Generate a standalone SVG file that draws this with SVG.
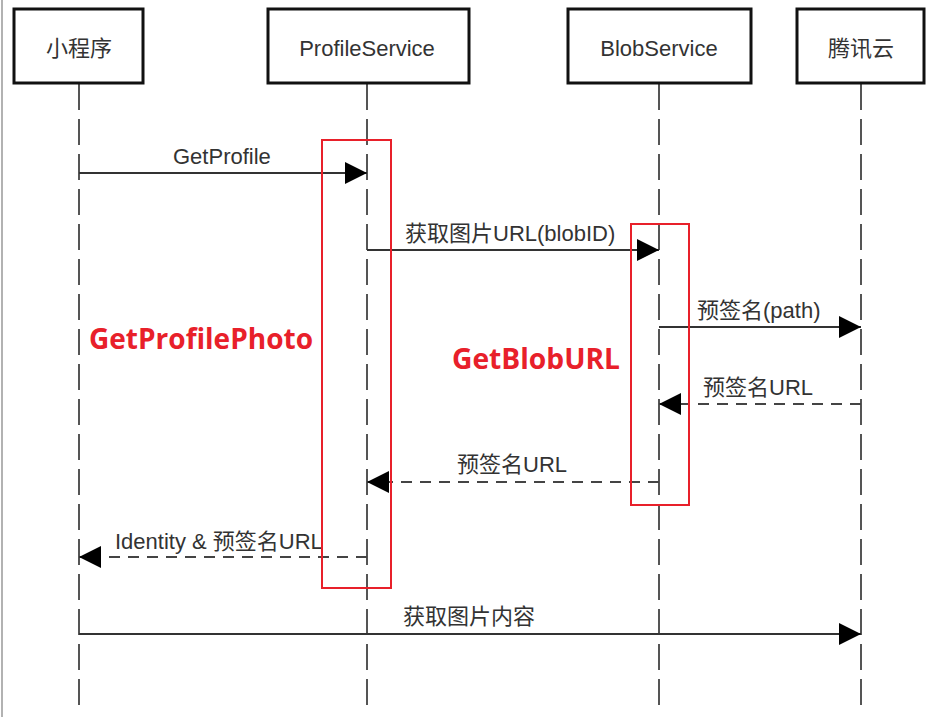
<svg xmlns="http://www.w3.org/2000/svg" width="930" height="717" viewBox="0 0 930 717">
<style>
.box{fill:#fff;stroke:#111;stroke-width:3}
.nt{font-family:"Liberation Sans","Noto Sans CJK SC",sans-serif;font-size:22px;fill:#333;text-anchor:middle}
.life{stroke:#555;stroke-width:2;stroke-dasharray:26 9;fill:none}
.msg{stroke:#333;stroke-width:2;fill:none}
.ret{stroke:#444;stroke-width:2;stroke-dasharray:11 8;fill:none}
.lbl{font-family:"Liberation Sans","Noto Sans CJK SC",sans-serif;font-size:22px;fill:#333}
.red{fill:none;stroke:#e8202a;stroke-width:2}
.rt{font-family:"Open Sans","Liberation Sans",sans-serif;font-size:29px;font-weight:bold;fill:#e8202a}
</style>
<defs>
<marker id="ah" markerUnits="userSpaceOnUse" markerWidth="22" markerHeight="22" refX="22" refY="11" orient="auto">
<path d="M0,0 L22,11 L0,22 Z" fill="#000"/>
</marker>
</defs>
<rect width="930" height="717" fill="#fff"/>
<line x1="2" y1="0" x2="2" y2="717" stroke="#999" stroke-width="1.5"/>
<g id="lifelines">
<line class="life" x1="79" y1="84" x2="79" y2="712"/>
<line class="life" x1="367" y1="84" x2="367" y2="712"/>
<line class="life" x1="659" y1="84" x2="659" y2="712"/>
<line class="life" x1="861" y1="84" x2="861" y2="712"/>
</g>
<g id="n-miniapp"><rect class="box" x="14" y="9" width="129" height="74"/><text class="nt" x="79" y="56">小程序</text></g>
<g id="n-profile"><rect class="box" x="268" y="9" width="201" height="74"/><text class="nt" x="367" y="56">ProfileService</text></g>
<g id="n-blob"><rect class="box" x="568" y="9" width="183" height="74"/><text class="nt" x="659" y="56">BlobService</text></g>
<g id="n-tencent"><rect class="box" x="797" y="9" width="127" height="74"/><text class="nt" x="861" y="56">腾讯云</text></g>
<g id="connectors">
<line class="msg" x1="79" y1="173" x2="367" y2="173" marker-end="url(#ah)"/>
<text class="lbl" x="173" y="164">GetProfile</text>
<line class="msg" x1="367" y1="250" x2="659" y2="250" marker-end="url(#ah)"/>
<text class="lbl" x="405" y="241">获取图片URL(blobID)</text>
<line class="msg" x1="659" y1="327" x2="861" y2="327" marker-end="url(#ah)"/>
<text class="lbl" x="697" y="318">预签名(path)</text>
<line class="ret" x1="861" y1="404" x2="659" y2="404" marker-end="url(#ah)"/>
<text class="lbl" x="703" y="395">预签名URL</text>
<line class="ret" x1="659" y1="482" x2="367" y2="482" marker-end="url(#ah)"/>
<text class="lbl" x="457" y="472">预签名URL</text>
<line class="ret" x1="367" y1="557" x2="79" y2="557" marker-end="url(#ah)"/>
<text class="lbl" x="115" y="549">Identity &amp; 预签名URL</text>
<line class="msg" x1="79" y1="634" x2="861" y2="634" marker-end="url(#ah)"/>
<text class="lbl" x="403" y="624">获取图片内容</text>
</g>
<g id="highlights">
<rect class="red" x="322" y="140" width="69" height="448"/>
<rect class="red" x="631" y="224" width="58" height="281"/>
<text class="rt" x="89" y="349" textLength="224" lengthAdjust="spacingAndGlyphs">GetProfilePhoto</text>
<text class="rt" x="452" y="369" textLength="168" lengthAdjust="spacingAndGlyphs">GetBlobURL</text>
</g>
</svg>
